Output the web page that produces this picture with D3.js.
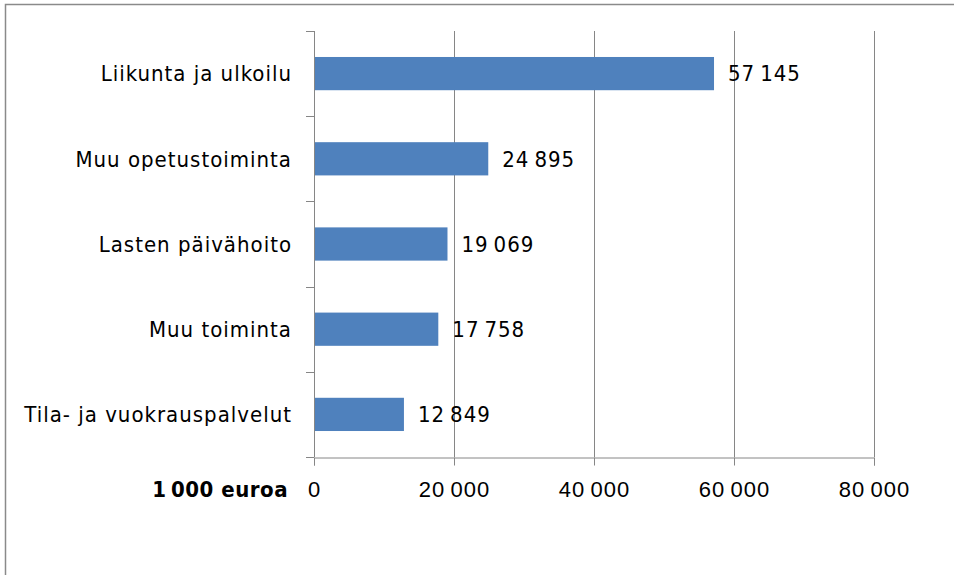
<!DOCTYPE html>
<html><head><meta charset="utf-8">
<script src="https://cdn.jsdelivr.net/npm/d3@7"></script>
<style>body{margin:0;background:#fff;} svg{display:block;font-family:"DejaVu Sans Condensed","Open Sans",sans-serif;letter-spacing:1px;}</style>
</head><body>
<svg id="c" width="954" height="575"></svg>
<script>
const categories = ["Liikunta ja ulkoilu","Muu opetustoiminta","Lasten päivähoito","Muu toiminta","Tila- ja vuokrauspalvelut"];
const values = [57145, 24895, 19069, 17758, 12849];
const ticks = [0, 20000, 40000, 60000, 80000];
const axisTitle = "1\u2009000 euroa";

const svg = d3.select("#c");
svg.append("rect").attr("x",5.5).attr("y",4.5).attr("width",960).attr("height",600)
  .attr("fill","none").attr("stroke","#8a8a8a").attr("stroke-width",1.5);

const L=314, R=874, T=31, B=457;
const FS=22;
const x = d3.scaleLinear().domain([0,80000]).range([L,R]);
const y = d3.scaleBand().domain(categories).range([T,B]).paddingInner(0.61).paddingOuter(0.305);
const fmt = v => d3.format(",")(v).replace(/,/g,"\u2009");

// gridlines
svg.append("g").selectAll("line").data(ticks.slice(1)).join("line")
  .attr("x1",d=>x(d)+0.5).attr("x2",d=>x(d)+0.5).attr("y1",T).attr("y2",B)
  .attr("stroke","#868686").attr("stroke-width",1);

// bars
svg.append("g").selectAll("rect").data(values).join("rect")
  .attr("x",L).attr("y",(d,i)=>y(categories[i])).attr("width",d=>x(d)-L).attr("height",y.bandwidth())
  .attr("fill","#4F81BD");

// x axis
const xa = svg.append("g").attr("transform",`translate(0,${B+0.5})`)
  .call(d3.axisBottom(x).tickValues(ticks).tickSize(8).tickFormat(fmt).tickPadding(16));
xa.select(".domain").attr("stroke","#868686");
xa.selectAll(".tick line").attr("stroke","#868686");
xa.selectAll(".tick text").attr("font-size",FS).attr("fill","#000");

// y axis
const yEdges = d3.range(categories.length+1).map(i=>T+i*(B-T)/categories.length);
svg.append("line").attr("x1",L+0.5).attr("x2",L+0.5).attr("y1",T).attr("y2",B).attr("stroke","#868686");
svg.append("g").selectAll("line").data(yEdges).join("line")
  .attr("x1",L-8).attr("x2",L).attr("y1",d=>Math.round(d)+0.5).attr("y2",d=>Math.round(d)+0.5).attr("stroke","#868686");
svg.append("g").selectAll("text").data(categories).join("text")
  .attr("x",292).attr("y",d=>y(d)+y.bandwidth()/2).attr("dy","0.35em").attr("text-anchor","end")
  .attr("font-size",FS).attr("fill","#000").text(d=>d);

// value labels
svg.append("g").selectAll("text").data(values).join("text")
  .attr("x",d=>x(d)+14).attr("y",(d,i)=>y(categories[i])+y.bandwidth()/2).attr("dy","0.35em")
  .attr("font-size",FS).attr("fill","#000").text(fmt);

// axis title
svg.append("text").attr("x",288).attr("y",B+0.5+8+16).attr("dy","0.71em").attr("text-anchor","end")
  .attr("font-size",FS).attr("font-weight","bold").attr("letter-spacing","0.5px").attr("fill","#000").text(axisTitle);
</script>
</body></html>
